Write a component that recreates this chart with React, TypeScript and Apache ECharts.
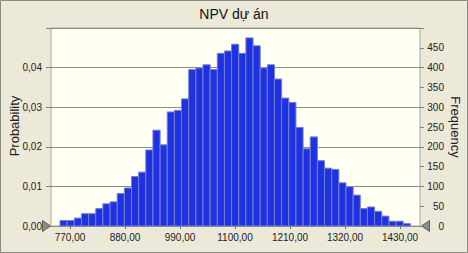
import React, { useEffect, useRef } from "react";
import * as echarts from "echarts";

const titleText = "NPV dự án";
const leftAxisName = "Probability";
const rightAxisName = "Frequency";

// histogram: first bin lower edge and bin width (NPV units)
const binStart = 750;
const binWidth = 14.3;
// frequency counts (10 000 trials)
const frequencies = [
  14, 14, 20, 31, 31, 44, 56, 61, 82, 96,
  125, 136, 192, 242, 205, 288, 292, 321, 395, 399,
  407, 395, 436, 442, 459, 436, 475, 455, 399, 407,
  371, 323, 312, 249, 195, 225, 165, 146, 143, 109,
  99, 78, 44, 48, 37, 25, 12, 12, 6,
];
const totalTrials = 10000;
const xTickValues = [770, 880, 990, 1100, 1210, 1320, 1430];
const xMin = 732;
const xMax = 1470;
const probMax = 0.05;
const probStep = 0.01;
const freqMax = 500;
const freqStep = 50;

export default function App() {
  const ref = useRef<HTMLDivElement>(null);
  useEffect(() => {
    if (!ref.current) return;
    const chart = echarts.init(ref.current, null, { renderer: "svg" });
    const data = frequencies.map((f, i) => [
      binStart + i * binWidth,
      binStart + (i + 1) * binWidth,
      f,
    ]);
    const font = "Liberation Sans";
    chart.setOption({
      animation: false,
      backgroundColor: "#ECE9D8",
      textStyle: { fontFamily: font },
      title: {
        text: titleText,
        left: "center",
        top: 2,
        textStyle: { fontFamily: font, fontSize: 14, fontWeight: "normal", color: "#111" },
      },
      grid: {
        left: 51,
        right: 48,
        top: 28,
        bottom: 27,
        show: true,
        backgroundColor: "#FFFFF4",
        borderColor: "#A8A8A0",
        borderWidth: 1,
      },
      xAxis: {
        type: "value",
        min: xMin,
        max: xMax,
        axisLine: { show: false },
        splitLine: { show: false },
        axisTick: {
          show: true,
          customValues: xTickValues,
          length: 3,
          lineStyle: { color: "#707070" },
        },
        axisLabel: {
          customValues: xTickValues,
          margin: 6,
          fontSize: 10,
          color: "#222",
          fontFamily: font,
          formatter: (v: number) => v.toFixed(2).replace(".", ","),
        },
      },
      yAxis: [
        {
          type: "value",
          min: 0,
          max: probMax,
          interval: probStep,
          position: "left",
          axisLine: { show: false },
          axisTick: { show: true, length: 5, lineStyle: { color: "#808080" } },
          splitLine: { show: true, lineStyle: { color: "#8C8C84", width: 1 } },
          axisLabel: {
            margin: 9,
            fontSize: 10,
            color: "#222",
            fontFamily: font,
            formatter: (v: number) =>
              v >= probMax - 1e-9 ? "" : v.toFixed(2).replace(".", ","),
          },
        },
        {
          type: "value",
          min: 0,
          max: freqMax,
          interval: freqStep,
          position: "right",
          axisLine: { show: false },
          axisTick: { show: true, length: 4, lineStyle: { color: "#808080" } },
          splitLine: { show: false },
          axisLabel: {
            margin: 24,
            align: "right",
            fontSize: 10,
            color: "#222",
            fontFamily: font,
            formatter: (v: number) => (v >= freqMax ? "" : String(v)),
          },
        },
      ],
      series: [
        {
          type: "custom",
          yAxisIndex: 1,
          data,
          encode: { x: [0, 1], y: 2 },
          renderItem: (params: any, api: any) => {
            const lo = api.value(0);
            const hi = api.value(1);
            const f = api.value(2);
            const p0 = api.coord([lo, f]);
            const p1 = api.coord([hi, 0]);
            return {
              type: "rect",
              shape: { x: p0[0], y: p0[1], width: p1[0] - p0[0], height: p1[1] - p0[1] },
              style: { fill: "#1E31E3", stroke: "#7480CC", lineWidth: 1 },
            };
          },
        },
        {
          type: "line",
          yAxisIndex: 0,
          data: [],
          silent: true,
        },
      ],
      graphic: [
        {
          type: "rect",
          shape: { x: 0.5, y: 0.5, width: 467, height: 252 },
          style: { fill: "none", stroke: "#8A8A80", lineWidth: 1 },
          silent: true,
        },
        {
          type: "text",
          x: 14,
          y: 126,
          rotation: Math.PI / 2,
          style: {
            text: leftAxisName,
            fontFamily: font,
            fontSize: 13,
            fill: "#222",
            textAlign: "center",
            textVerticalAlign: "middle",
          },
        },
        {
          type: "text",
          x: 455,
          y: 127,
          rotation: -Math.PI / 2,
          style: {
            text: rightAxisName,
            fontFamily: font,
            fontSize: 13,
            fill: "#222",
            textAlign: "center",
            textVerticalAlign: "middle",
          },
        },
        {
          type: "polygon",
          shape: { points: [[42.5, 220.5], [50.5, 226], [42.5, 231.5]] },
          style: { fill: "#8C8C8C", stroke: "#5A5A5A", lineWidth: 1 },
        },
        {
          type: "polygon",
          shape: { points: [[429.5, 220.5], [421.5, 226], [429.5, 231.5]] },
          style: { fill: "#8C8C8C", stroke: "#5A5A5A", lineWidth: 1 },
        },
      ],
    });
    return () => chart.dispose();
  }, []);
  return (
    <div
      ref={ref}
      style={{ position: "fixed", left: 0, top: 0, width: 468, height: 253 }}
    />
  );
}
